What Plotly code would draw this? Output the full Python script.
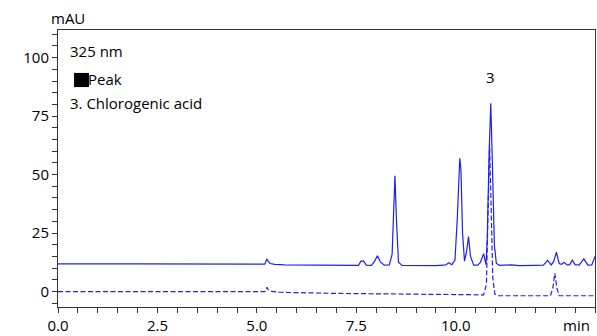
import plotly.graph_objects as go

# Solid trace (sample with peaks)
t_solid = [0.0, 1.5, 1.55, 1.6, 1.9, 1.95, 2.0, 5.2, 5.25, 5.28, 5.33, 5.45, 5.7, 6.5, 7.0, 7.55,
           7.62, 7.68, 7.75, 7.88, 7.96, 8.03, 8.1, 8.2, 8.33, 8.4, 8.44, 8.47, 8.51, 8.56, 8.65,
           9.5, 9.75, 9.82, 9.9, 9.98, 10.04, 10.1, 10.13, 10.17, 10.22, 10.27, 10.32, 10.37, 10.45,
           10.55, 10.62, 10.7, 10.76, 10.79, 10.84, 10.88, 10.92, 10.97, 11.02, 11.1, 11.4, 11.6, 12.0,
           12.2, 12.31, 12.4, 12.46, 12.53, 12.6, 12.66, 12.72, 12.8, 12.86, 12.93, 13.0, 13.1, 13.22,
           13.32, 13.42, 13.5]
v_solid = [11.8, 11.8, 12.1, 11.8, 11.8, 12.1, 11.8, 11.7, 13.9, 13.0, 12.0, 11.6, 11.4, 11.3, 11.2, 11.2,
           13.0, 13.1, 11.3, 11.2, 13.0, 15.3, 12.8, 11.3, 11.4, 16.0, 35.0, 49.5, 30.0, 12.5, 11.2,
           11.1, 11.4, 12.3, 11.5, 13.5, 32.0, 57.0, 52.0, 25.0, 13.0, 17.0, 23.5, 15.0, 11.3,
           11.3, 12.5, 16.2, 11.5, 22.0, 60.0, 80.5, 55.0, 20.0, 12.0, 11.2, 11.4, 11.1, 11.2,
           11.3, 13.3, 11.4, 12.8, 16.8, 12.0, 11.6, 12.5, 11.4, 11.4, 13.4, 11.5, 11.3, 14.0,
           11.3, 11.4, 15.0]

# Dashed trace (standard)
t_dash = [0.0, 5.2, 5.25, 5.28, 5.35, 5.6, 7.0, 8.5, 10.0, 10.7, 10.77, 10.81, 10.85, 10.89, 10.93,
          10.98, 11.05, 12.38, 12.44, 12.49, 12.54, 12.6, 13.5]
v_dash = [0.0, 0.0, 1.8, 0.9, 0.1, -0.3, -0.8, -1.1, -1.3, -1.4, 3.0, 30.0, 63.0, 35.0, 6.0,
          -1.0, -1.8, -1.8, 1.5, 7.8, 1.5, -1.8, -1.8]

x_ticks = [0.0, 2.5, 5.0, 7.5, 10.0]
y_ticks = [0, 25, 50, 75, 100]

FONT = "Open Sans"
BLUE = "#1f1ff0"

fig = go.Figure()
fig.add_trace(go.Scatter(x=t_dash, y=v_dash, mode="lines",
                         line=dict(color=BLUE, width=1.2, dash="5px,2.5px"), showlegend=False))
fig.add_trace(go.Scatter(x=t_solid, y=v_solid, mode="lines",
                         line=dict(color=BLUE, width=1.2), showlegend=False))

fig.update_layout(
    width=597, height=336,
    margin=dict(l=58, r=2, t=30, b=29),
    paper_bgcolor="white", plot_bgcolor="white",
    font=dict(family=FONT, size=15, color="black"),
    xaxis=dict(range=[0, 13.5], tickvals=x_ticks, ticktext=[f"{v:.1f}" for v in x_ticks],
               showgrid=False, zeroline=False, showline=True, linecolor="#333", linewidth=1,
               mirror=True, ticks="outside", ticklen=5, tickcolor="#333",
               minor=dict(dtick=0.5, tick0=0, ticks="outside", ticklen=5, tickcolor="#333"),
               tickfont=dict(size=15)),
    yaxis=dict(range=[-6.6, 111.8], tickvals=y_ticks, showgrid=False, zeroline=False,
               showline=True, linecolor="#333", linewidth=1, mirror=True,
               ticks="outside", ticklen=5, tickcolor="#333",
               minor=dict(dtick=5, tick0=0, ticks="outside", ticklen=5, tickcolor="#333"),
               tickfont=dict(size=15)),
)

ann = dict(showarrow=False, font=dict(family=FONT, size=15, color="black"))
fig.add_annotation(text="mAU", xref="paper", yref="paper", x=-0.016, y=1.0, yshift=12,
                   xanchor="left", yanchor="middle", **ann)
fig.add_annotation(text="min", xref="paper", yref="paper", x=0.966, y=0, yshift=-18,
                   xanchor="center", yanchor="middle", **ann)
fig.add_annotation(text="325 nm", xref="paper", yref="paper", x=0.018, y=0.925,
                   xanchor="left", yanchor="middle", **ann)
# legend swatch (black square) + label
fig.add_shape(type="rect", xref="paper", yref="paper", x0=0.0298, x1=0.0577, y0=0.794, y1=0.845,
              fillcolor="black", line=dict(width=0))
fig.add_annotation(text="Peak", xref="paper", yref="paper",
                   x=0.053, y=0.822, xanchor="left", yanchor="middle", **ann)
fig.add_annotation(text="3. Chlorogenic acid", xref="paper", yref="paper", x=0.018, y=0.735,
                   xanchor="left", yanchor="middle", **ann)
fig.add_annotation(text="3", x=10.88, y=80.5, yshift=26, xref="x", yref="y",
                   xanchor="center", yanchor="middle", **ann)

fig.write_html("out.html", config={"displayModeBar": False},
               post_script="document.body.style.margin='0';")
